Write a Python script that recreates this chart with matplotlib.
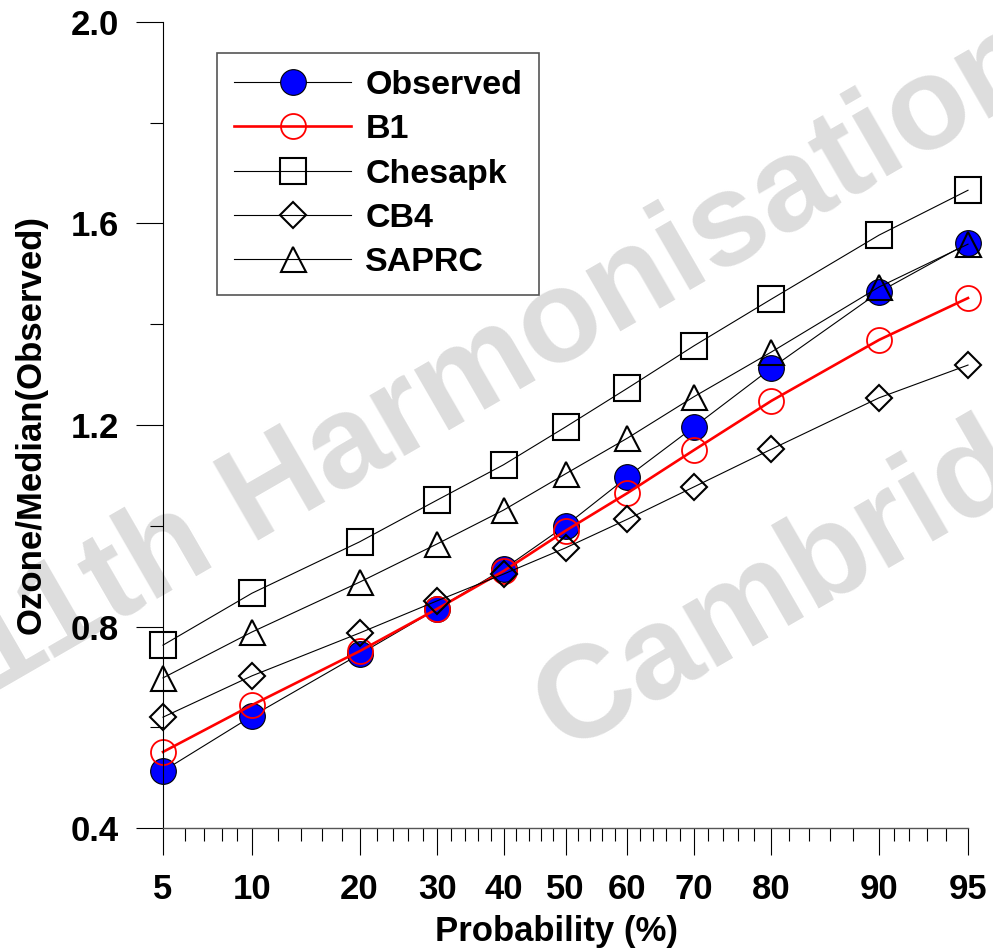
import math
import numpy as np
import matplotlib
matplotlib.use("Agg")
import matplotlib.pyplot as plt
from matplotlib.ticker import FixedLocator, NullFormatter

plt.rcParams['font.family'] = ['Liberation Sans', 'DejaVu Sans']
plt.rcParams['font.weight'] = 'bold'

# data
prob = [5, 10, 20, 30, 40, 50, 60, 70, 80, 90, 95]
observed = [0.513, 0.622, 0.745, 0.835, 0.914, 1.000, 1.097, 1.196, 1.313, 1.464, 1.561]
b1 = [0.551, 0.644, 0.751, 0.835, 0.910, 0.990, 1.065, 1.150, 1.248, 1.369, 1.452]
chesapk = [0.763, 0.866, 0.968, 1.051, 1.121, 1.196, 1.273, 1.357, 1.450, 1.577, 1.666]
cb4 = [0.620, 0.702, 0.787, 0.851, 0.904, 0.956, 1.013, 1.077, 1.152, 1.254, 1.319]
saprc = [0.698, 0.789, 0.888, 0.964, 1.031, 1.103, 1.174, 1.256, 1.345, 1.474, 1.559]

x_major = [5, 10, 20, 30, 40, 50, 60, 70, 80, 90, 95]
x_minor = [6, 7, 8, 9, 12, 14, 16, 18, 22, 24, 26, 28, 32, 34, 36, 38,
           42, 44, 46, 48, 52, 54, 56, 58, 62, 64, 66, 68, 72, 74, 76, 78,
           82, 84, 86, 88, 91, 92, 93, 94]

# normal probability scale (no scipy, so tabulate the cdf)
z_grid = np.linspace(-8, 8, 40001)
cdf_grid = 0.5 * (1 + np.vectorize(math.erf)(z_grid / math.sqrt(2)))


def fwd(p):
    p = np.clip(np.asarray(p, dtype=float) / 100.0, 1e-12, 1 - 1e-12)
    return np.interp(p, cdf_grid, z_grid)


def inv(z):
    return 100.0 * np.interp(np.asarray(z, dtype=float), z_grid, cdf_grid)


fig = plt.figure(figsize=(9.93, 9.5), dpi=100)
ax = fig.add_axes([163 / 993, 1 - 828 / 950, 805 / 993, 806 / 950])
ax.patch.set_alpha(0)

# watermark, behind everything
wm = dict(fontsize=95, color='#dddddd', rotation=30, rotation_mode='anchor',
          ha='left', va='baseline', zorder=-1, fontweight='bold')
fig.text(-0.01, 0.268, '11th Harmonisation', **wm)
fig.text(0.568, 0.208, 'Cambridge', **wm)

ax.set_xscale('function', functions=(fwd, inv))

common = dict(clip_on=False)
ax.plot(prob, observed, color='black', lw=0.8, marker='o', ms=18.5,
        mfc='#0000ff', mec='black', mew=0.8, label='Observed', **common)
ax.plot(prob, b1, color='#ff0000', lw=1.9, marker='o', ms=18, mfc='none',
        mec='#ff0000', mew=1.3, label='B1', **common)
ax.plot(prob, chesapk, color='black', lw=0.8, marker='s', ms=18.5, mfc='none',
        mec='black', mew=1.5, label='Chesapk', **common)
ax.plot(prob, cb4, color='black', lw=0.8, marker='D', ms=13, mfc='none',
        mec='black', mew=1.5, label='CB4', **common)
ax.plot(prob, saprc, color='black', lw=0.8, marker='^', ms=18, mfc='none',
        mec='black', mew=1.5, label='SAPRC', **common)

ax.set_xlim(5, 95)
ax.set_ylim(0.4, 2.0)
ax.xaxis.set_major_locator(FixedLocator(x_major))
ax.xaxis.set_minor_locator(FixedLocator(x_minor))
ax.xaxis.set_minor_formatter(NullFormatter())
ax.set_xticklabels([str(v) for v in x_major])
ax.set_yticks([0.4, 0.8, 1.2, 1.6, 2.0])
ax.set_yticks([0.6, 1.0, 1.4, 1.8], minor=True)
ax.set_yticklabels(['0.4', '0.8', '1.2', '1.6', '2.0'])

for s in ['top', 'right']:
    ax.spines[s].set_visible(False)
ax.spines['left'].set_linewidth(0.8)
ax.spines['bottom'].set_linewidth(1.0)
ax.spines['bottom'].set_color('#555555')

ax.tick_params(which='major', direction='out', length=19.5, width=0.8,
               labelsize=25, pad=12)
ax.tick_params(which='minor', direction='out', length=9.5, width=0.8)
ax.tick_params(axis='x', which='major', pad=13)

ax.set_xlabel('Probability (%)', fontsize=25, fontweight='bold')
ax.set_ylabel('Ozone/Median(Observed)', fontsize=25, fontweight='bold')
ax.xaxis.set_label_coords(0.489, -0.108)
ax.yaxis.set_label_coords(-0.143, 0.5)

leg = ax.legend(loc='upper left', bbox_to_anchor=(217 / 993, 1 - 53 / 950),
                bbox_transform=fig.transFigure, borderaxespad=0,
                fontsize=24.5, handlelength=3.45, handletextpad=0.41,
                labelspacing=0.39, borderpad=0.5, fancybox=False,
                framealpha=1, edgecolor='#555555')
leg.get_frame().set_linewidth(1.2)
for t in leg.get_texts():
    t.set_fontweight('bold')

fig.savefig('out.png', dpi=100)
